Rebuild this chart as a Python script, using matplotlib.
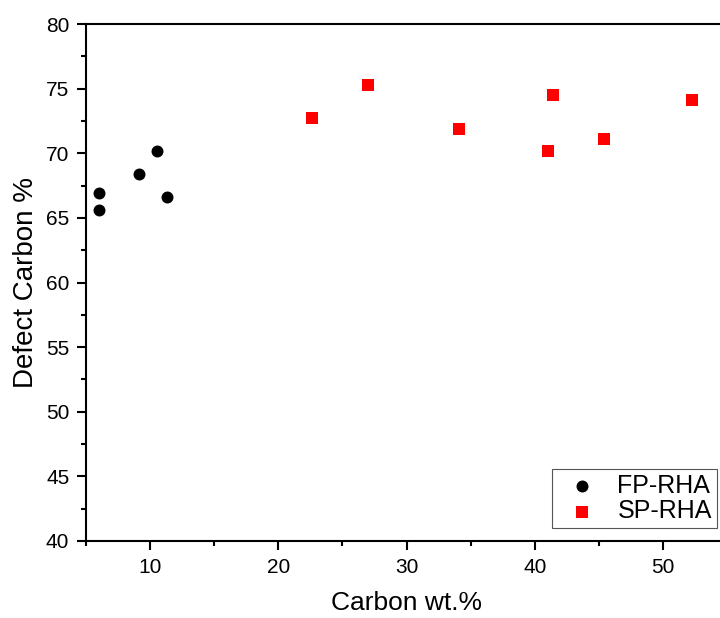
import matplotlib
matplotlib.use("Agg")
import matplotlib.pyplot as plt
from matplotlib.ticker import MultipleLocator

plt.rcParams['font.family'] = ['Liberation Sans', 'DejaVu Sans']

# FP-RHA samples
fp_carbon = [6.0, 6.0, 9.1, 10.5, 11.3]
fp_defect = [66.9, 65.6, 68.4, 70.2, 66.6]

# SP-RHA samples
sp_carbon = [22.6, 27.0, 34.1, 41.0, 41.4, 45.4, 52.3]
sp_defect = [72.7, 75.3, 71.9, 70.2, 74.5, 71.1, 74.1]

x_label = "Carbon wt.%"
y_label = "Defect Carbon %"

fig = plt.figure(figsize=(7.2, 6.18), dpi=100)
ax = fig.add_axes([86 / 720, 1 - 541 / 618, 641 / 720, 517 / 618])

ax.scatter(fp_carbon, fp_defect, s=8.6 ** 2, marker='o', color='black',
           linewidths=0, label='FP-RHA', zorder=3)
ax.scatter(sp_carbon, sp_defect, s=8.0 ** 2, marker='s', color='#ff0000',
           linewidths=0, label='SP-RHA', zorder=3)

ax.set_xlim(5, 55)
ax.set_ylim(40, 80)
ax.xaxis.set_major_locator(MultipleLocator(10))
ax.xaxis.set_minor_locator(MultipleLocator(5))
ax.yaxis.set_major_locator(MultipleLocator(5))
ax.yaxis.set_minor_locator(MultipleLocator(2.5))

for sp in ax.spines.values():
    sp.set_linewidth(1.5)
ax.tick_params(which='major', direction='out', length=6.5, width=1.5,
               labelsize=15, pad=5.5, colors='black')
ax.tick_params(which='minor', direction='out', length=3.5, width=1.5)

ax.set_xlabel(x_label, fontsize=19, labelpad=10)
ax.set_ylabel(y_label, fontsize=20, labelpad=5)

leg = ax.legend(loc='lower right', bbox_to_anchor=(0.984, 0.025),
                borderaxespad=0, fontsize=18, frameon=True, fancybox=False,
                framealpha=1, edgecolor='#555555', handletextpad=0.4,
                labelspacing=0.05, borderpad=0.2, handlelength=2.0,
                scatterpoints=1)
leg.get_frame().set_linewidth(0.8)

fig.savefig("out.png", dpi=100)
